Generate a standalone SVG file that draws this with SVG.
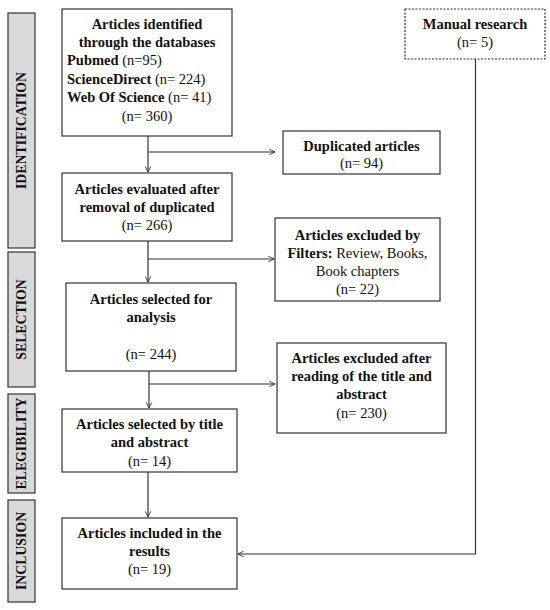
<svg xmlns="http://www.w3.org/2000/svg" width="550" height="610" viewBox="0 0 550 610">
<defs>
<style>
.box{fill:#fff;stroke:#333;stroke-width:1.2}
.side{fill:#d9d9d9;stroke:#333;stroke-width:1.2}
.dot{fill:#fff;stroke:#333;stroke-width:1.2;stroke-dasharray:2 1.5}
text{font-family:"Liberation Serif","Times New Roman",serif;font-size:14.5px;fill:#111}
.b{font-weight:bold}
.c{text-anchor:middle}
.st{font-weight:bold;font-size:13.8px;text-anchor:middle}
.ln{fill:none;stroke:#333;stroke-width:1.2}
</style>
<marker id="ah" viewBox="0 0 10 10" refX="9" refY="5" markerWidth="7" markerHeight="7" orient="auto" markerUnits="userSpaceOnUse">
<path d="M1,1 L9,5 L1,9" fill="none" stroke="#333" stroke-width="1.3"/>
</marker>
</defs>
<rect width="550" height="610" fill="#fff"/>

<g id="side-identification">
<rect class="side" x="8" y="13" width="27" height="235"/>
<text class="st" transform="translate(26,130.5) rotate(-90)">IDENTIFICATION</text>
</g>
<g id="side-selection">
<rect class="side" x="8" y="252" width="27" height="135"/>
<text class="st" transform="translate(26,319.5) rotate(-90)">SELECTION</text>
</g>
<g id="side-elegibility">
<rect class="side" x="8" y="394" width="27" height="99"/>
<text class="st" transform="translate(26,443.5) rotate(-90)">ELEGIBILITY</text>
</g>
<g id="side-inclusion">
<rect class="side" x="8" y="500" width="27" height="102"/>
<text class="st" transform="translate(26,551) rotate(-90)">INCLUSION</text>
</g>

<g id="connectors">
<line class="ln" x1="148" y1="136" x2="148" y2="172" marker-end="url(#ah)"/>
<line class="ln" x1="148" y1="152" x2="275" y2="152" marker-end="url(#ah)"/>
<line class="ln" x1="148" y1="241" x2="148" y2="282" marker-end="url(#ah)"/>
<line class="ln" x1="148" y1="259" x2="274" y2="259" marker-end="url(#ah)"/>
<line class="ln" x1="149" y1="371" x2="149" y2="408" marker-end="url(#ah)"/>
<line class="ln" x1="149" y1="384" x2="275" y2="384" marker-end="url(#ah)"/>
<line class="ln" x1="148" y1="472" x2="148" y2="517" marker-end="url(#ah)"/>
<polyline class="ln" points="475.5,59 475.5,554 238,554" marker-end="url(#ah)"/>
</g>

<g id="n-identified">
<rect class="box" x="62" y="9" width="170" height="127"/>
<text class="b c" x="147" y="29">Articles identified</text>
<text class="b c" x="147" y="47">through the databases</text>
<text x="67" y="65"><tspan class="b">Pubmed</tspan>  (n=95)</text>
<text x="67" y="84"><tspan class="b">ScienceDirect</tspan>  (n= 224)</text>
<text x="67" y="102"><tspan class="b">Web Of Science</tspan> (n= 41)</text>
<text class="c" x="147" y="121">(n= 360)</text>
</g>

<g id="n-manual">
<rect class="dot" x="405" y="9" width="140" height="50"/>
<text class="b c" x="475" y="29">Manual research</text>
<text class="c" x="475" y="47">(n= 5)</text>
</g>

<g id="n-duplicated">
<rect class="box" x="283" y="131" width="157" height="43"/>
<text class="b c" x="361.5" y="151">Duplicated articles</text>
<text class="c" x="361.5" y="168">(n= 94)</text>
</g>

<g id="n-evaluated">
<rect class="box" x="62" y="173" width="170" height="68"/>
<text class="b c" x="147" y="194">Articles evaluated after</text>
<text class="b c" x="147" y="212">removal of duplicated</text>
<text class="c" x="147" y="230">(n= 266)</text>
</g>

<g id="n-filters">
<rect class="box" x="275" y="218" width="165" height="83"/>
<text class="b c" x="357.5" y="240">Articles excluded by</text>
<text class="c" x="357.5" y="258"><tspan class="b">Filters:</tspan> Review, Books,</text>
<text class="c" x="357.5" y="276">Book chapters</text>
<text class="c" x="357.5" y="294">(n= 22)</text>
</g>

<g id="n-selected">
<rect class="box" x="66" y="283" width="170" height="88"/>
<text class="b c" x="151" y="304">Articles selected for</text>
<text class="b c" x="151" y="322">analysis</text>
<text class="c" x="151" y="359">(n= 244)</text>
</g>

<g id="n-excluded-title">
<rect class="box" x="277" y="343" width="169" height="90"/>
<text class="b c" x="361.5" y="363">Articles excluded after</text>
<text class="b c" x="361.5" y="381">reading of the title and</text>
<text class="b c" x="361.5" y="399">abstract</text>
<text class="c" x="361.5" y="418">(n= 230)</text>
</g>

<g id="n-title-abstract">
<rect class="box" x="62" y="409" width="175" height="63"/>
<text class="b c" x="149.5" y="429">Articles selected by title</text>
<text class="b c" x="149.5" y="447">and abstract</text>
<text class="c" x="149.5" y="466">(n= 14)</text>
</g>

<g id="n-included">
<rect class="box" x="62" y="518" width="175" height="71"/>
<text class="b c" x="149.5" y="538">Articles included in the</text>
<text class="b c" x="149.5" y="556">results</text>
<text class="c" x="149.5" y="574">(n= 19)</text>
</g>
</svg>
